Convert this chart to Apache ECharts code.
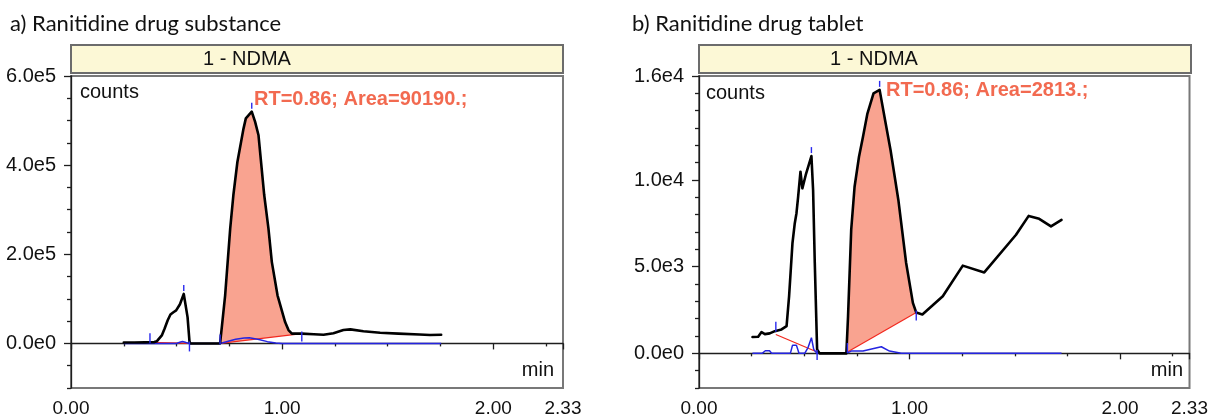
<!DOCTYPE html>
<html><head><meta charset="utf-8">
<script src="https://cdn.jsdelivr.net/npm/echarts@6/dist/echarts.min.js"></script>
<style>html,body{margin:0;padding:0;background:#fff}#c{width:1211px;height:419px}</style>
</head><body><div id="c"></div>
<script>
// ---------------- data ----------------
const titles = ['a) Ranitidine drug substance', 'b) Ranitidine drug tablet'];
const compound = '1 - NDMA';
const peakLabels = ['RT=0.86; Area=90190.;', 'RT=0.86; Area=2813.;'];
const yName = 'counts';
const xName = 'min';

const xTicks = [0, 1, 2, 2.33];
const xMinor = [0.25, 0.5, 0.75, 1.25, 1.5, 1.75, 2.25];
const xRange = [0, 2.33];

const yRangeA = [-100000, 600000];
const yTicksA = [0, 200000, 400000, 600000];
const yMinorA = [-100000, -50000, 50000, 100000, 150000, 250000, 300000, 350000, 450000, 500000, 550000];

const yRangeB = [-2000, 16000];
const yTicksB = [0, 5000, 10000, 16000];
const yMinorB = [-2000, -1000, 1000, 2000, 3000, 4000, 6000, 7000, 8000, 9000, 11000, 12000, 13000, 14000, 15000];

// a) drug substance: main trace (black)
const blackA = [
  [0.25, 2000], [0.30, 2200], [0.35, 2400], [0.374, 2500], [0.395, 3000], [0.407, 5000],
  [0.43, 18000], [0.443, 33000], [0.458, 52000], [0.471, 65000], [0.485, 70000], [0.498, 74000],
  [0.516, 88000], [0.534, 111000], [0.552, 59000], [0.561, 5000], [0.565, 0],
  [0.60, 0], [0.65, 0], [0.706, 0],
  [0.715, 40000], [0.730, 108000], [0.754, 258000], [0.769, 333000], [0.788, 407000],
  [0.817, 482000], [0.828, 505000], [0.856, 520000], [0.872, 497000], [0.888, 467000],
  [0.915, 333000], [0.935, 258000], [0.951, 183000], [0.978, 108000], [1.014, 48000],
  [1.030, 30000], [1.046, 22000], [1.093, 22000], [1.15, 20500], [1.196, 19500],
  [1.243, 23000], [1.29, 30000], [1.323, 31500], [1.385, 27500], [1.464, 24000],
  [1.551, 22000], [1.65, 20000], [1.70, 19000], [1.753, 19500]
];
// a) secondary trace (blue)
const blueA = [
  [0.25, 0], [0.40, 0], [0.50, 0], [0.515, 2500], [0.528, 4500], [0.545, 2000], [0.56, 0],
  [0.706, 0], [0.74, 4500], [0.78, 9500], [0.82, 12000], [0.845, 12500], [0.89, 9000],
  [0.93, 4000], [0.97, 1000], [1.0, 0], [1.753, 0]
];
// a) integration baselines (second one is the NDMA peak)
const baseA = [[[0.374, 2500], [0.561, 0]], [[0.706, 0], [1.093, 22000]]];
// a) peak markers: [time, counts, kind] (s = start, a = apex, e = end)
const marksA = [[0.374, 2500, 's'], [0.534, 111000, 'a'], [0.561, 0, 'e'],
                [0.706, 0, 's'], [0.856, 520000, 'a'], [1.093, 22000, 'e']];

// b) drug tablet: main trace (black)
const blackB = [
  [0.254, 940], [0.281, 960], [0.297, 1225], [0.313, 1110], [0.336, 1150], [0.360, 1280],
  [0.392, 1380], [0.416, 1570], [0.428, 3300], [0.444, 6360], [0.455, 7510], [0.463, 8085],
  [0.471, 9040], [0.482, 10480], [0.491, 9520], [0.507, 10290], [0.534, 11380], [0.542, 9425],
  [0.550, 5210], [0.561, 230], [0.573, 0], [0.65, 0], [0.700, 0],
  [0.708, 2140], [0.723, 7130], [0.739, 9610], [0.760, 11340], [0.779, 12490], [0.800, 13830],
  [0.829, 15000], [0.858, 15200], [0.884, 13450], [0.910, 11720], [0.947, 8850], [0.984, 5210],
  [1.016, 2910], [1.032, 2350], [1.061, 2240], [1.158, 3290], [1.253, 5060], [1.355, 4670],
  [1.506, 6840], [1.566, 7930], [1.616, 7760], [1.672, 7320], [1.722, 7700]
];
// b) secondary trace (blue)
const blueB = [
  [0.254, 0], [0.30, 0], [0.315, 150], [0.335, 150], [0.345, 0], [0.434, 0], [0.444, 460],
  [0.463, 460], [0.475, 0], [0.502, 0], [0.518, 330], [0.534, 900], [0.545, 230], [0.560, 0],
  [0.700, 0], [0.723, 130], [0.779, 130], [0.866, 380], [0.905, 130], [0.961, 0], [1.722, 0]
];
const baseB = [[[0.365, 1090], [0.561, 75]], [[0.705, 75], [1.032, 2350]]];
const marksB = [[0.365, 1300, 's'], [0.534, 11380, 'a'], [0.561, 75, 'e'],
                [0.705, 75, 's'], [0.858, 15200, 'a'], [1.032, 2350, 'e']];

// ---------------- layout / style ----------------
const grids = [{ left: 71 }, { left: 699 }];
const gTop = 76, gW = 492, gH = 312;
const FONT = '"Liberation Sans", Arial, sans-serif';
const TICK_COLOR = '#1e1e1e';
const tickOffs = { s: [-9, 1], a: [-9, -3], e: [-2, 8] };

const expFmt = v => v.toExponential(1).replace('+', '');

const chart = echarts.init(document.getElementById('c'), null, { renderer: 'canvas' });

const panels = [
  { black: blackA, blue: blueA, base: baseA, marks: marksA, yr: yRangeA, yt: yTicksA, ym: yMinorA },
  { black: blackB, blue: blueB, base: baseB, marks: marksB, yr: yRangeB, yt: yTicksB, ym: yMinorB }
];

const xAxis = [], yAxis = [], series = [], grid = [];
panels.forEach((p, i) => {
  grid.push({ left: grids[i].left, top: gTop, width: gW, height: gH, show: true,
              borderColor: '#787878', borderWidth: 2, backgroundColor: '#fff' });
  const common = { gridIndex: i, type: 'value', min: xRange[0], max: xRange[1], position: 'bottom', offset: 6,
                   splitLine: { show: false } };
  xAxis.push(Object.assign({}, common, {
    axisLine: { show: true, lineStyle: { color: TICK_COLOR, width: 1.3 } },
    axisTick: { show: true, length: 6, customValues: xTicks, lineStyle: { color: TICK_COLOR, width: 1.3 } },
    axisLabel: { show: true, customValues: xTicks, formatter: v => v.toFixed(2), fontSize: 19,
                 fontFamily: FONT, color: '#111', margin: 5 }
  }));
  xAxis.push(Object.assign({}, common, {
    axisLine: { show: false },
    axisTick: { show: true, length: 3, customValues: xMinor, lineStyle: { color: TICK_COLOR, width: 1.3 } },
    axisLabel: { show: false }
  }));
  const ycommon = { gridIndex: i, type: 'value', min: p.yr[0], max: p.yr[1], position: 'left', offset: 4,
                    splitLine: { show: false } };
  yAxis.push(Object.assign({}, ycommon, {
    axisLine: { show: true, lineStyle: { color: TICK_COLOR, width: 1.3 } },
    axisTick: { show: true, length: 7, customValues: p.yt, lineStyle: { color: TICK_COLOR, width: 1.3 } },
    axisLabel: { show: true, customValues: p.yt, formatter: expFmt, fontSize: 20, fontFamily: FONT,
                 color: '#111', margin: 11 }
  }));
  yAxis.push(Object.assign({}, ycommon, {
    axisLine: { show: false },
    axisTick: { show: true, length: 4, customValues: p.ym, lineStyle: { color: TICK_COLOR, width: 1.3 } },
    axisLabel: { show: false }
  }));
  const xi = 2 * i, yi = 2 * i;
  // shaded NDMA peak between trace and its baseline
  const seg = p.base[1];
  series.push({
    type: 'custom', xAxisIndex: xi, yAxisIndex: yi, z: 1, silent: true,
    data: [seg[0]],
    renderItem: (params, api) => {
      const pts = [api.coord(seg[0])];
      p.black.forEach(q => { if (q[0] > seg[0][0] && q[0] < seg[1][0]) pts.push(api.coord(q)); });
      pts.push(api.coord(seg[1]));
      return { type: 'polygon', shape: { points: pts }, style: { fill: '#f9a390', stroke: null } };
    }
  });
  p.base.forEach(b => series.push({
    type: 'line', xAxisIndex: xi, yAxisIndex: yi, z: 2, data: b, symbol: 'none', silent: true,
    lineStyle: { color: '#f2281e', width: 1.2 }
  }));
  series.push({
    type: 'line', xAxisIndex: xi, yAxisIndex: yi, z: 3, data: p.blue, symbol: 'none', silent: true,
    lineStyle: { color: '#2424e0', width: 1.5 }
  });
  series.push({
    type: 'line', xAxisIndex: xi, yAxisIndex: yi, z: 4, data: p.black, symbol: 'none', silent: true,
    lineStyle: { color: '#000', width: 2.6, join: 'round', cap: 'round' }
  });
  series.push({
    type: 'custom', xAxisIndex: xi, yAxisIndex: yi, z: 5, silent: true,
    data: p.marks.map(m => [m[0], m[1]]),
    renderItem: (params, api) => {
      const m = p.marks[params.dataIndex];
      const c = api.coord([m[0], m[1]]);
      const o = tickOffs[m[2]];
      return { type: 'line', shape: { x1: c[0], y1: c[1] + o[0], x2: c[0], y2: c[1] + o[1] },
               style: { stroke: '#2a2aee', lineWidth: 1.4 } };
    }
  });
});

const gfx = [];
const titleX = [10, 632];
const headerTextX = [247, 874];
const rtPos = [[254, 99], [886, 90]];
const countsPos = [[80, 92], [706, 93]];
const minRight = [554, 1183];
panels.forEach((p, i) => {
  const L = grids[i].left;
  gfx.push({ type: 'text', x: titleX[i], y: 24, z: 10,
             style: { text: titles[i], font: '22px Lato, "Open Sans", sans-serif', fill: '#111',
                      align: 'left', verticalAlign: 'middle' } });
  gfx.push({ type: 'rect', shape: { x: L, y: 45, width: gW, height: 28 }, z: 10,
             style: { fill: '#fcf8d6', stroke: '#6c6c6c', lineWidth: 2 } });
  gfx.push({ type: 'text', x: headerTextX[i], y: 59.5, z: 11,
             style: { text: compound, font: '20px ' + FONT, fill: '#111', align: 'center', verticalAlign: 'middle' } });
  gfx.push({ type: 'text', x: countsPos[i][0], y: countsPos[i][1], z: 11,
             style: { text: yName, font: '20px ' + FONT, fill: '#111', align: 'left', verticalAlign: 'middle' } });
  gfx.push({ type: 'text', x: minRight[i], y: 370, z: 11,
             style: { text: xName, font: '20px ' + FONT, fill: '#111', align: 'right', verticalAlign: 'middle' } });
  gfx.push({ type: 'text', x: rtPos[i][0], y: rtPos[i][1], z: 11,
             style: { text: peakLabels[i], font: 'bold 20px ' + FONT, fill: '#f26a50', align: 'left', verticalAlign: 'middle' } });
});

chart.setOption({
  animation: false,
  backgroundColor: '#fff',
  grid, xAxis, yAxis, series,
  graphic: { elements: gfx }
});
</script>
</body></html>
